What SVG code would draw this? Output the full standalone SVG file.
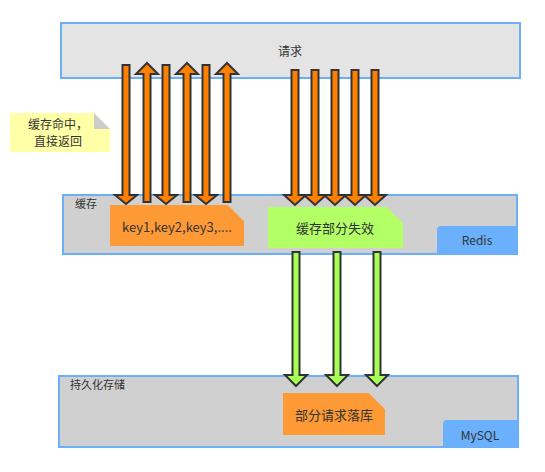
<svg xmlns="http://www.w3.org/2000/svg" width="545" height="472" viewBox="0 0 545 472">
<style>
.box{stroke:#6aaff7;stroke-width:2}
.lbl{font-family:"Noto Sans CJK SC","Liberation Sans",sans-serif;fill:#333}
.arrO{fill:#ff8000;stroke:#333;stroke-width:2;stroke-linejoin:miter}
.arrG{fill:#a8ff55;stroke:#333;stroke-width:2;stroke-linejoin:miter}
.tag{fill:#6ab0fc}
.fold{fill:none;stroke:#e0c9a8;stroke-width:0.8}
</style>
<rect width="545" height="472" fill="#ffffff"/>
<g id="request">
<rect class="box" x="61" y="23" width="459" height="55" fill="#e4e4e4"/>
<text class="lbl" x="290" y="56" font-size="12" text-anchor="middle">请求</text>
</g>
<g id="cache">
<rect class="box" x="63" y="195" width="454" height="59" fill="#d0d0d0"/>
<text class="lbl" x="75" y="208" font-size="11">缓存</text>
<path class="tag" d="M437,254 V230 Q437,226 441,226 H517 V254 Z"/>
<text class="lbl" x="477" y="245" font-size="12" text-anchor="middle">Redis</text>
</g>
<g id="db">
<rect class="box" x="59" y="376" width="459" height="71" fill="#d0d0d0"/>
<text class="lbl" x="70" y="389" font-size="11">持久化存储</text>
<path class="tag" d="M443,447 V424 Q443,420 447,420 H517 V447 Z"/>
<text class="lbl" x="480" y="440" font-size="12" text-anchor="middle">MySQL</text>
</g>
<g id="note-hit">
<polygon points="10,113 94,113 110,129 110,152 10,152" fill="#ffffa8"/>
<polygon points="94,113 94,129 110,129" fill="#cccccc"/>
<text class="lbl" x="58" y="129" font-size="12" text-anchor="middle">缓存命中，</text>
<text class="lbl" x="58" y="146" font-size="12" text-anchor="middle">直接返回</text>
</g>
<g id="connectors">
<polygon class="arrO" points="122.5,65 129.5,65 129.5,195 137,195 126,204 115,195 122.5,195"/>
<polygon class="arrO" points="162.5,65 169.5,65 169.5,195 177,195 166,204 155,195 162.5,195"/>
<polygon class="arrO" points="202.5,65 209.5,65 209.5,195 217,195 206,204 195,195 202.5,195"/>
<polygon class="arrO" points="143.5,202 150.5,202 150.5,74 158,74 147,63 136,74 143.5,74"/>
<polygon class="arrO" points="183.5,202 190.5,202 190.5,74 198,74 187,63 176,74 183.5,74"/>
<polygon class="arrO" points="223.5,202 230.5,202 230.5,74 238,74 227,63 216,74 223.5,74"/>
<polygon class="arrO" points="291.5,70 298.5,70 298.5,195 306,195 295,205 284,195 291.5,195"/>
<polygon class="arrO" points="311.5,70 318.5,70 318.5,195 326,195 315,205 304,195 311.5,195"/>
<polygon class="arrO" points="331.5,70 338.5,70 338.5,195 346,195 335,205 324,195 331.5,195"/>
<polygon class="arrO" points="351.5,70 358.5,70 358.5,195 366,195 355,205 344,195 351.5,195"/>
<polygon class="arrO" points="371.5,70 378.5,70 378.5,195 386,195 375,205 364,195 371.5,195"/>
<polygon class="arrG" points="292.5,252 299.5,252 299.5,375 307,375 296,386 285,375 292.5,375"/>
<polygon class="arrG" points="333.5,252 340.5,252 340.5,375 348,375 337,386 326,375 333.5,375"/>
<polygon class="arrG" points="373.5,252 380.5,252 380.5,375 388,375 377,386 366,375 373.5,375"/>
</g>
<g id="note-keys">
<polygon points="110,205 228,205 244,221 244,246 110,246" fill="#fe9a36"/>
<line class="fold" x1="228" y1="205" x2="244" y2="221"/>
<text class="lbl" x="177" y="232" font-size="13" text-anchor="middle">key1,key2,key3,....</text>
</g>
<g id="note-miss">
<polygon points="268,207 387,207 403,223 403,248 268,248" fill="#b2ff66"/>
<line class="fold" x1="387" y1="207" x2="403" y2="223" stroke="#d8e8c0"/>
<text class="lbl" x="335" y="233" font-size="13" text-anchor="middle">缓存部分失效</text>
</g>
<g id="note-db">
<polygon points="283,393 369,393 385,409 385,435 283,435" fill="#fe9a36"/>
<line class="fold" x1="369" y1="393" x2="385" y2="409"/>
<text class="lbl" x="334" y="420" font-size="13" text-anchor="middle">部分请求落库</text>
</g>
</svg>
